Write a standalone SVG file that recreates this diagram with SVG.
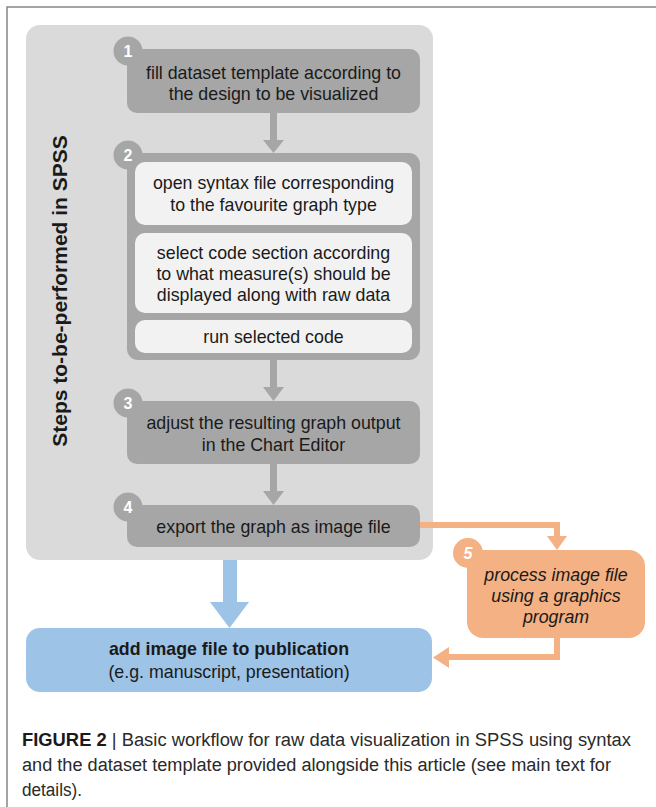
<svg xmlns="http://www.w3.org/2000/svg" width="656" height="807" viewBox="0 0 656 807">
<style>
.t{font-family:"Liberation Sans",Arial,sans-serif;font-size:17.8px;fill:#1a1a1a;text-anchor:middle}
.n{font-family:"Liberation Sans",Arial,sans-serif;font-size:16px;font-weight:bold;fill:#ffffff;text-anchor:middle}
.box{fill:#a6a6a6}
.sub{fill:#f2f2f2}
.num{fill:#a6a6a6}
.cap{font-family:"Liberation Sans",Arial,sans-serif;font-size:18px;fill:#2a2a2a}
</style>
<rect width="656" height="807" fill="#ffffff"/>
<path d="M7 807 V7 H656" fill="none" stroke="#858585" stroke-width="1.5"/>
<g id="panel">
<rect x="26" y="25" width="407" height="535" rx="14" fill="#dadada"/>
<text x="67" y="291" transform="rotate(-90 67 291)" font-family="'Liberation Sans',Arial,sans-serif" font-size="21" font-weight="bold" fill="#1a1a1a" text-anchor="middle">Steps to-be-performed in SPSS</text>
</g>
<g id="connectors">
<g fill="#a6a6a6">
<rect x="270" y="113" width="7" height="28"/><path d="M263 140 H284 L273.5 153 Z"/>
<rect x="270" y="360" width="7" height="28"/><path d="M263 387 H284 L273.5 401 Z"/>
<rect x="270" y="464" width="7" height="28"/><path d="M263 491 H284 L273.5 505 Z"/>
</g>
<g fill="#9dc3e6">
<rect x="223" y="560" width="14" height="43"/><path d="M210 602 H249 L229.5 628 Z"/>
</g>
<g fill="none" stroke="#f4b183" stroke-width="6">
<path d="M420 525 H557 V537"/>
<path d="M557 638 V657 H448"/>
</g>
<g fill="#f4b183">
<path d="M547 536 H567 L557 550 Z"/>
<path d="M449 647 V668 L433 657.5 Z"/>
</g>
</g>
<g id="step1">
<rect class="box" x="127" y="49" width="293" height="64" rx="10"/>
<circle class="num" cx="128" cy="51" r="14.5"/>
<text class="n" x="128" y="57">1</text>
<text class="t" x="273.5" y="79">fill dataset template according to</text>
<text class="t" x="273.5" y="100">the design to be visualized</text>
</g>
<g id="step2">
<rect class="box" x="127" y="153" width="293" height="207" rx="11"/>
<circle class="num" cx="128" cy="155" r="14.5"/>
<text class="n" x="128" y="161">2</text>
<rect class="sub" x="135" y="162" width="277" height="63" rx="10"/>
<text class="t" x="273.5" y="189">open syntax file corresponding</text>
<text class="t" x="273.5" y="211">to the favourite graph type</text>
<rect class="sub" x="135" y="233" width="277" height="80" rx="10"/>
<text class="t" x="273.5" y="259">select code section according</text>
<text class="t" x="273.5" y="280">to what measure(s) should be</text>
<text class="t" x="273.5" y="301">displayed along with raw data</text>
<rect class="sub" x="135" y="320" width="277" height="33" rx="10"/>
<text class="t" x="273.5" y="343">run selected code</text>
</g>
<g id="step3">
<rect class="box" x="127" y="401" width="293" height="63" rx="10"/>
<circle class="num" cx="128" cy="403" r="14.5"/>
<text class="n" x="128" y="409">3</text>
<text class="t" x="273.5" y="429">adjust the resulting graph output</text>
<text class="t" x="273.5" y="451">in the Chart Editor</text>
</g>
<g id="step4">
<rect class="box" x="127" y="505" width="293" height="42" rx="10"/>
<circle class="num" cx="128" cy="507" r="14.5"/>
<text class="n" x="128" y="513">4</text>
<text class="t" x="273.5" y="533">export the graph as image file</text>
</g>
<g id="step5">
<rect x="467" y="550" width="178" height="88" rx="16" fill="#f4b183"/>
<circle cx="468" cy="553" r="15" fill="#f4b183"/>
<text class="n" x="468" y="559" font-style="italic" font-weight="normal" font-size="18">5</text>
<text class="t" x="556" y="581" font-style="italic">process image file</text>
<text class="t" x="556" y="602" font-style="italic">using a graphics</text>
<text class="t" x="556" y="623" font-style="italic">program</text>
</g>
<g id="publication">
<rect x="26" y="628" width="406" height="64" rx="14" fill="#9dc3e6"/>
<text class="t" x="229" y="655" font-weight="bold">add image file to publication</text>
<text class="t" x="229" y="678">(e.g. manuscript, presentation)</text>
</g>
<g id="caption">
<text class="cap" x="22" y="746" textLength="609" lengthAdjust="spacingAndGlyphs"><tspan font-weight="bold" fill="#1a1a1a">FIGURE 2</tspan> | Basic workflow for raw data visualization in SPSS using syntax</text>
<text class="cap" x="22" y="771" textLength="589" lengthAdjust="spacingAndGlyphs">and the dataset template provided alongside this article (see main text for</text>
<text class="cap" x="22" y="796" textLength="60" lengthAdjust="spacingAndGlyphs">details).</text>
</g>
</svg>
